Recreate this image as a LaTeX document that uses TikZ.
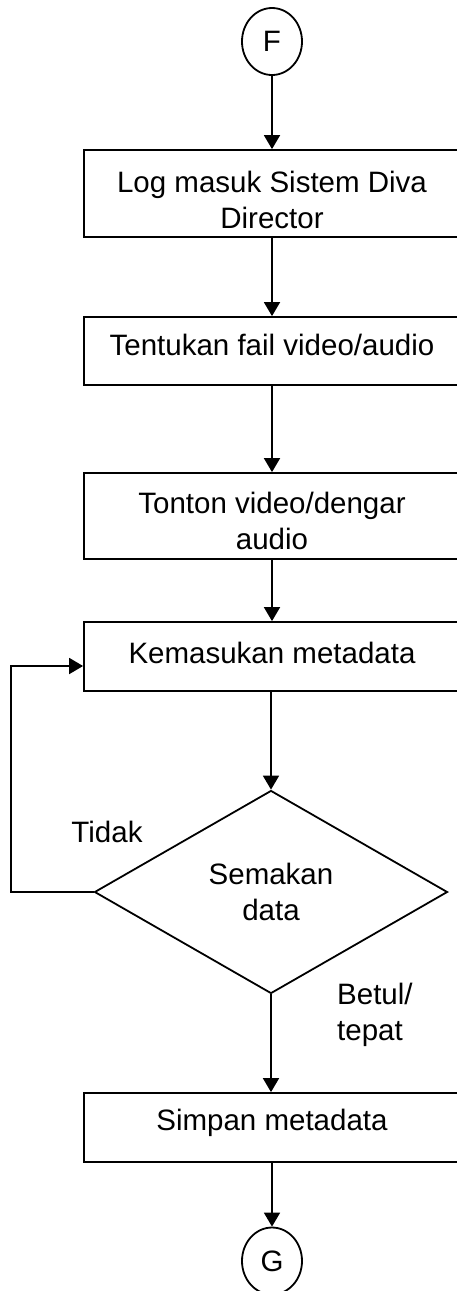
\documentclass[tikz,border=0pt]{standalone}
\usepackage{fontspec}
\setmainfont{Liberation Sans}
\usetikzlibrary{arrows.meta,shapes.geometric}

\tikzset{
  flow/.style={line width=1.8pt, -{Triangle[length=14pt,width=16pt]}},
  txt/.style={font=\fontsize{29.5}{36}\selectfont},
  procbox/.style={draw, line width=1.8pt, rectangle, minimum width=376pt,
    inner sep=0pt},
  boxtext/.style={txt, inner sep=0pt, align=center},
  connector/.style={draw, line width=1.8pt, ellipse, minimum width=60pt,
    minimum height=67pt, inner sep=0pt, txt},
  decision/.style={draw, line width=1.8pt, diamond, aspect=1.74,
    minimum width=353pt, minimum height=203pt, inner sep=0pt, align=center,
    txt},
  lbl/.style={txt, inner sep=0pt, align=left}
}

\begin{document}
\begin{tikzpicture}[x=1pt, y=-1pt]
  \useasboundingbox (0,0) rectangle (457,1291);
  \clip (0,0) rectangle (457,1291);

  % connectors and process steps
  \node[connector] (F) at (272,41.5) {F};

  \node[procbox, minimum height=87pt] (login) at (272,193.5) {};
  \node[boxtext] (login-t) at ([yshift=-6pt]login.center)
    {Log masuk Sistem Diva\\Director};

  \node[procbox, minimum height=68pt] (pick) at (272,351) {};
  \node[boxtext] (pick-t) at ([yshift=6pt]pick.center)
    {Tentukan fail video/audio};

  \node[procbox, minimum height=86pt] (watch) at (272,516) {};
  \node[boxtext] (watch-t) at ([yshift=-5pt]watch.center)
    {Tonton video/dengar\\audio};

  \node[procbox, minimum height=69pt] (entry) at (272,656.5) {};
  \node[boxtext] (entry-t) at ([yshift=4pt]entry.center)
    {Kemasukan metadata};

  \node[decision] (check) at (271,892) {Semakan\\data};

  \node[procbox, minimum height=69pt] (save) at (272,1127.5) {};
  \node[boxtext] (save-t) at ([yshift=5pt]save.center)
    {Simpan metadata};

  \node[connector] (G) at (272,1261) {G};

  % branch labels
  \node[lbl] (no) at (107,832) {Tidak};
  \node[lbl, anchor=west] (yes) at (337,1015) {Betul/\\tepat};

  % loop-back corner
  \coordinate (back) at (11,892);
  \coordinate (entryin) at ([yshift=-9.5pt]entry.west);

  % main flow
  \draw[flow] (F) -- (login);
  \draw[flow] (login) -- (pick);
  \draw[flow] (pick) -- (watch);
  \draw[flow] (watch) -- (entry);
  \draw[flow] (entry.south -| check.north) -- (check.north);
  \draw[flow] (check.south) -- (save.north -| check.south);
  \draw[flow] (save) -- (G);

  % correction loop
  \draw[flow] (check.west) -- (back) |- (entryin);
\end{tikzpicture}
\end{document}
